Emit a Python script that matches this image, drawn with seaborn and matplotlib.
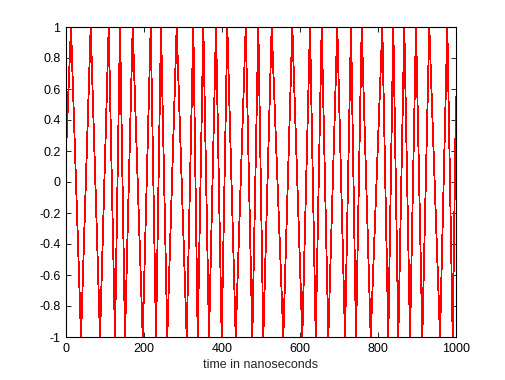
import matplotlib
matplotlib.use("Agg")
import matplotlib.pyplot as plt
import seaborn as sns
import pandas as pd

# Extremes of the waveform (time in ns, value)
time_ns = [0.0, 12.8, 38.5, 63.3, 87.2, 109.5, 125.6, 138.5, 151.3, 171.0, 196.7,
           217.2, 230.8, 243.6, 259.7, 283.8, 309.5, 326.4, 337.7, 352.1, 366.7,
           384.6, 399.2, 413.6, 435.1, 460.8, 477.7, 493.1, 505.9, 527.4, 557.2,
           580.3, 605.9, 625.6, 640.3, 655.6, 672.6, 695.6, 715.4, 730.8, 743.6,
           758.2, 781.3, 811.0, 826.4, 839.2, 852.1, 867.4, 882.1, 897.4, 913.6,
           931.5, 959.0, 977.7, 991.5, 1000.0]
signal = [0.19, 1, -1, 1, -1, 1, -1, 1, -1, 1, -1,
          1, -1, 1, -1, 1, -1, 1, -1, 1, -1,
          1, -1, 1, -1, 1, -1, 1, -1, 1, -1,
          1, -1, 1, -1, 1, -1, 1, -1, 1, -1,
          1, -1, 1, -1, 1, -1, 1, -1, 1, -1,
          1, -1, 1, -1, 0.55]

x_ticks = [0, 200, 400, 600, 800, 1000]
y_ticks = [-1, -0.8, -0.6, -0.4, -0.2, 0, 0.2, 0.4, 0.6, 0.8, 1]
y_tick_labels = ["-1", "-0.8", "-0.6", "-0.4", "-0.2", "0", "0.2", "0.4", "0.6", "0.8", "1"]
x_label = "time in nanoseconds"

sns.set_style("white")
plt.rcParams["font.family"] = ["Liberation Sans", "DejaVu Sans"]

fig = plt.figure(figsize=(5.06, 3.80), dpi=100)
ax = fig.add_axes([66 / 506, 43 / 380, 390 / 506, 310 / 380])

df = pd.DataFrame({"t": time_ns, "v": signal})
sns.lineplot(data=df, x="t", y="v", color="#ff0000", linewidth=0.6,
             estimator=None, ax=ax, antialiased=False)

ax.set_xlim(0, 1000)
ax.set_ylim(-1, 1)
ax.set_xticks(x_ticks)
ax.set_xticklabels([str(v) for v in x_ticks])
ax.set_yticks(y_ticks)
ax.set_yticklabels(y_tick_labels)
ax.set_xlabel(x_label, fontsize=9, labelpad=3)
ax.set_ylabel("")

for s in ax.spines.values():
    s.set_visible(True)
    s.set_color("black")
    s.set_linewidth(0.8)

ax.tick_params(axis="both", which="both", direction="in", length=3.5, width=0.6,
               top=True, right=True, bottom=True, left=True,
               labelsize=9, colors="black", pad=4)

fig.savefig("out.png", dpi=100, facecolor="white")
